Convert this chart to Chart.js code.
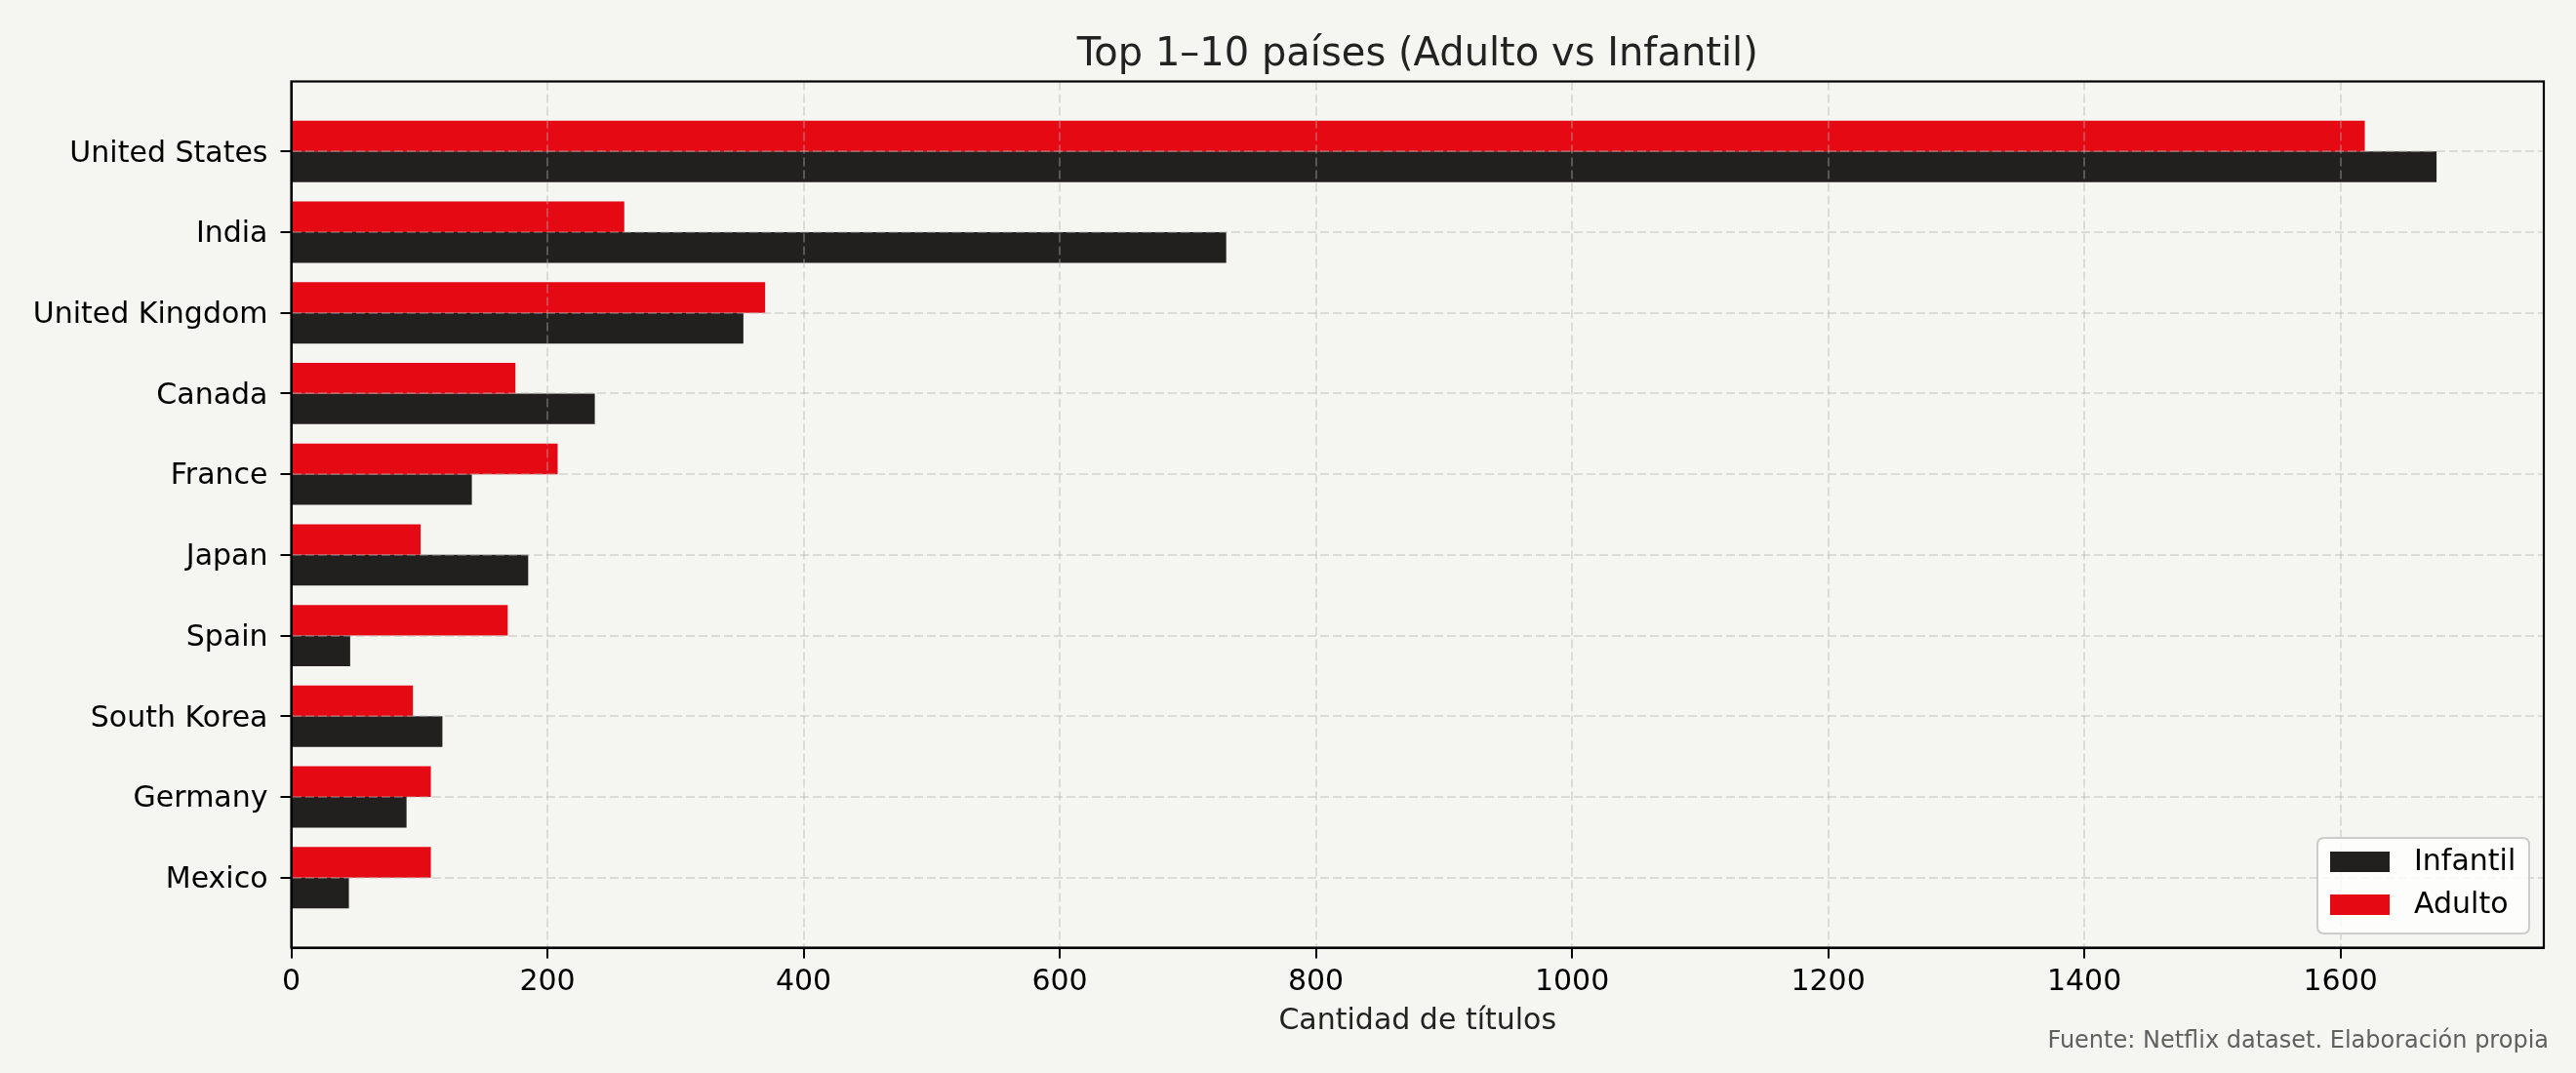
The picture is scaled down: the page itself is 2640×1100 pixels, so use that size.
<!DOCTYPE html>
<html>
<head>
<meta charset="utf-8">
<script src="https://cdn.jsdelivr.net/npm/chart.js@4.4.1/dist/chart.umd.min.js"></script>
<style>
  html, body { margin: 0; padding: 0; background: #F5F5F1; }
  canvas { display: block; }
</style>
</head>
<body>
<canvas id="c" width="2640" height="1100" style="width:2640px;height:1100px"></canvas>
<script>
// ---- data ----
const countries = ['United States', 'India', 'United Kingdom', 'Canada', 'France', 'Japan', 'Spain', 'South Korea', 'Germany', 'Mexico'];
const adulto   = [1619, 260, 370, 175, 208, 101, 169, 95, 109, 109];
const infantil = [1675, 730, 353, 237, 141, 185, 46, 118, 90, 45];
const xTicks = [0, 200, 400, 600, 800, 1000, 1200, 1400, 1600];
const xMax = 1758.75;
const yMin = -0.868;
const yMax = 9.868;
const titleText = 'Top 1–10 países (Adulto vs Infantil)';
const xLabel = 'Cantidad de títulos';
const sourceText = 'Fuente: Netflix dataset. Elaboración propia';
const legendOrder = ['Infantil', 'Adulto'];

// ---- style ----
const RED = '#E50914', BLACK = '#221F1F', BG = '#F5F5F1';
const FONT = 'DejaVu Sans';
const GRID = 'rgba(176,176,176,0.38)';

const bgPlugin = {
  id: 'bg',
  beforeDraw(chart) {
    const ctx = chart.ctx;
    ctx.save();
    ctx.fillStyle = BG;
    ctx.fillRect(0, 0, chart.width, chart.height);
    ctx.restore();
  }
};

const decoPlugin = {
  id: 'deco',
  afterDraw(chart) {
    const ctx = chart.ctx;
    const a = chart.chartArea;
    ctx.save();
    // frame
    ctx.strokeStyle = '#000';
    ctx.lineWidth = 2.2;
    ctx.strokeRect(a.left, a.top, a.right - a.left, a.bottom - a.top);
    // title centred over axes
    ctx.fillStyle = '#222';
    ctx.font = '40px "' + FONT + '"';
    ctx.textAlign = 'center';
    ctx.textBaseline = 'alphabetic';
    ctx.fillText(titleText, (a.left + a.right) / 2, 66.5);
    // source note
    ctx.fillStyle = '#5f5f5f';
    ctx.font = '24px "' + FONT + '"';
    ctx.textAlign = 'right';
    ctx.fillText(sourceText, 2612, 1074);
    // legend
    const lx2 = a.right - 15, ly2 = a.bottom - 14.5;
    const lw = 217, lh = 98;
    const lx = lx2 - lw, ly = ly2 - lh;
    const r = 7;
    ctx.beginPath();
    ctx.moveTo(lx + r, ly);
    ctx.lineTo(lx + lw - r, ly);
    ctx.quadraticCurveTo(lx + lw, ly, lx + lw, ly + r);
    ctx.lineTo(lx + lw, ly + lh - r);
    ctx.quadraticCurveTo(lx + lw, ly + lh, lx + lw - r, ly + lh);
    ctx.lineTo(lx + r, ly + lh);
    ctx.quadraticCurveTo(lx, ly + lh, lx, ly + lh - r);
    ctx.lineTo(lx, ly + r);
    ctx.quadraticCurveTo(lx, ly, lx + r, ly);
    ctx.closePath();
    ctx.fillStyle = 'rgba(255,255,255,0.8)';
    ctx.fill();
    ctx.strokeStyle = '#cccccc';
    ctx.lineWidth = 2;
    ctx.stroke();
    ctx.font = '30px "' + FONT + '"';
    ctx.textAlign = 'left';
    ctx.textBaseline = 'middle';
    legendOrder.forEach((name, k) => {
      const ds = chart.data.datasets.find(d => d.label === name);
      const cy = ly + 24.5 + k * 44;
      ctx.fillStyle = ds.backgroundColor;
      ctx.fillRect(lx + 13, cy - 10.5, 61, 21);
      ctx.fillStyle = '#000';
      ctx.fillText(name, lx + 99, cy + 1);
    });
    ctx.restore();
  }
};

new Chart(document.getElementById('c'), {
  type: 'bar',
  data: {
    datasets: [
      { label: 'Adulto', data: adulto.map((v, i) => ({ x: v, y: i })), backgroundColor: RED, borderWidth: 0, categoryPercentage: 0.76, barPercentage: 1 },
      { label: 'Infantil', data: infantil.map((v, i) => ({ x: v, y: i })), backgroundColor: BLACK, borderWidth: 0, categoryPercentage: 0.76, barPercentage: 1 }
    ]
  },
  options: {
    indexAxis: 'y',
    responsive: false,
    animation: false,
    devicePixelRatio: 1,
    layout: { padding: { left: 0, right: 33, top: 83.5, bottom: 37.5 } },
    plugins: {
      legend: { display: false },
      tooltip: { enabled: false },
      title: { display: false }
    },
    scales: {
      x: {
        type: 'linear',
        min: 0,
        max: xMax,
        offset: false,
        afterBuildTicks: s => { s.ticks = xTicks.map(v => ({ value: v })); },
        ticks: { color: '#000', font: { family: FONT, size: 30 }, padding: 7, maxRotation: 0, autoSkip: false, includeBounds: false, callback: v => String(v) },
        grid: { offset: false, color: GRID, lineWidth: 2, z: 1, tickLength: 11, tickColor: '#000', tickWidth: 2, drawTicks: true },
        border: { display: true, color: '#000', width: 2, dash: [9, 4], z: 2 },
        title: { display: true, text: xLabel, color: '#222', font: { family: FONT, size: 30, lineHeight: 1.0 }, padding: { top: 0, bottom: 0 } }
      },
      y: {
        type: 'linear',
        min: yMin,
        max: yMax,
        reverse: true,
        offset: false,
        afterBuildTicks: s => { s.ticks = countries.map((c, i) => ({ value: i })); },
        afterFit: s => { s.width = 298.5; },
        ticks: { color: '#000', font: { family: FONT, size: 30 }, padding: 13, labelOffset: 2.5, autoSkip: false, includeBounds: false, callback: v => countries[v] },
        grid: { offset: false, color: GRID, lineWidth: 2, z: 1, tickLength: 11, tickColor: '#000', tickWidth: 2, drawTicks: true },
        border: { display: true, color: '#000', width: 2, dash: [9, 4], z: 2 }
      }
    }
  },
  plugins: [bgPlugin, decoPlugin]
});
</script>
</body>
</html>
